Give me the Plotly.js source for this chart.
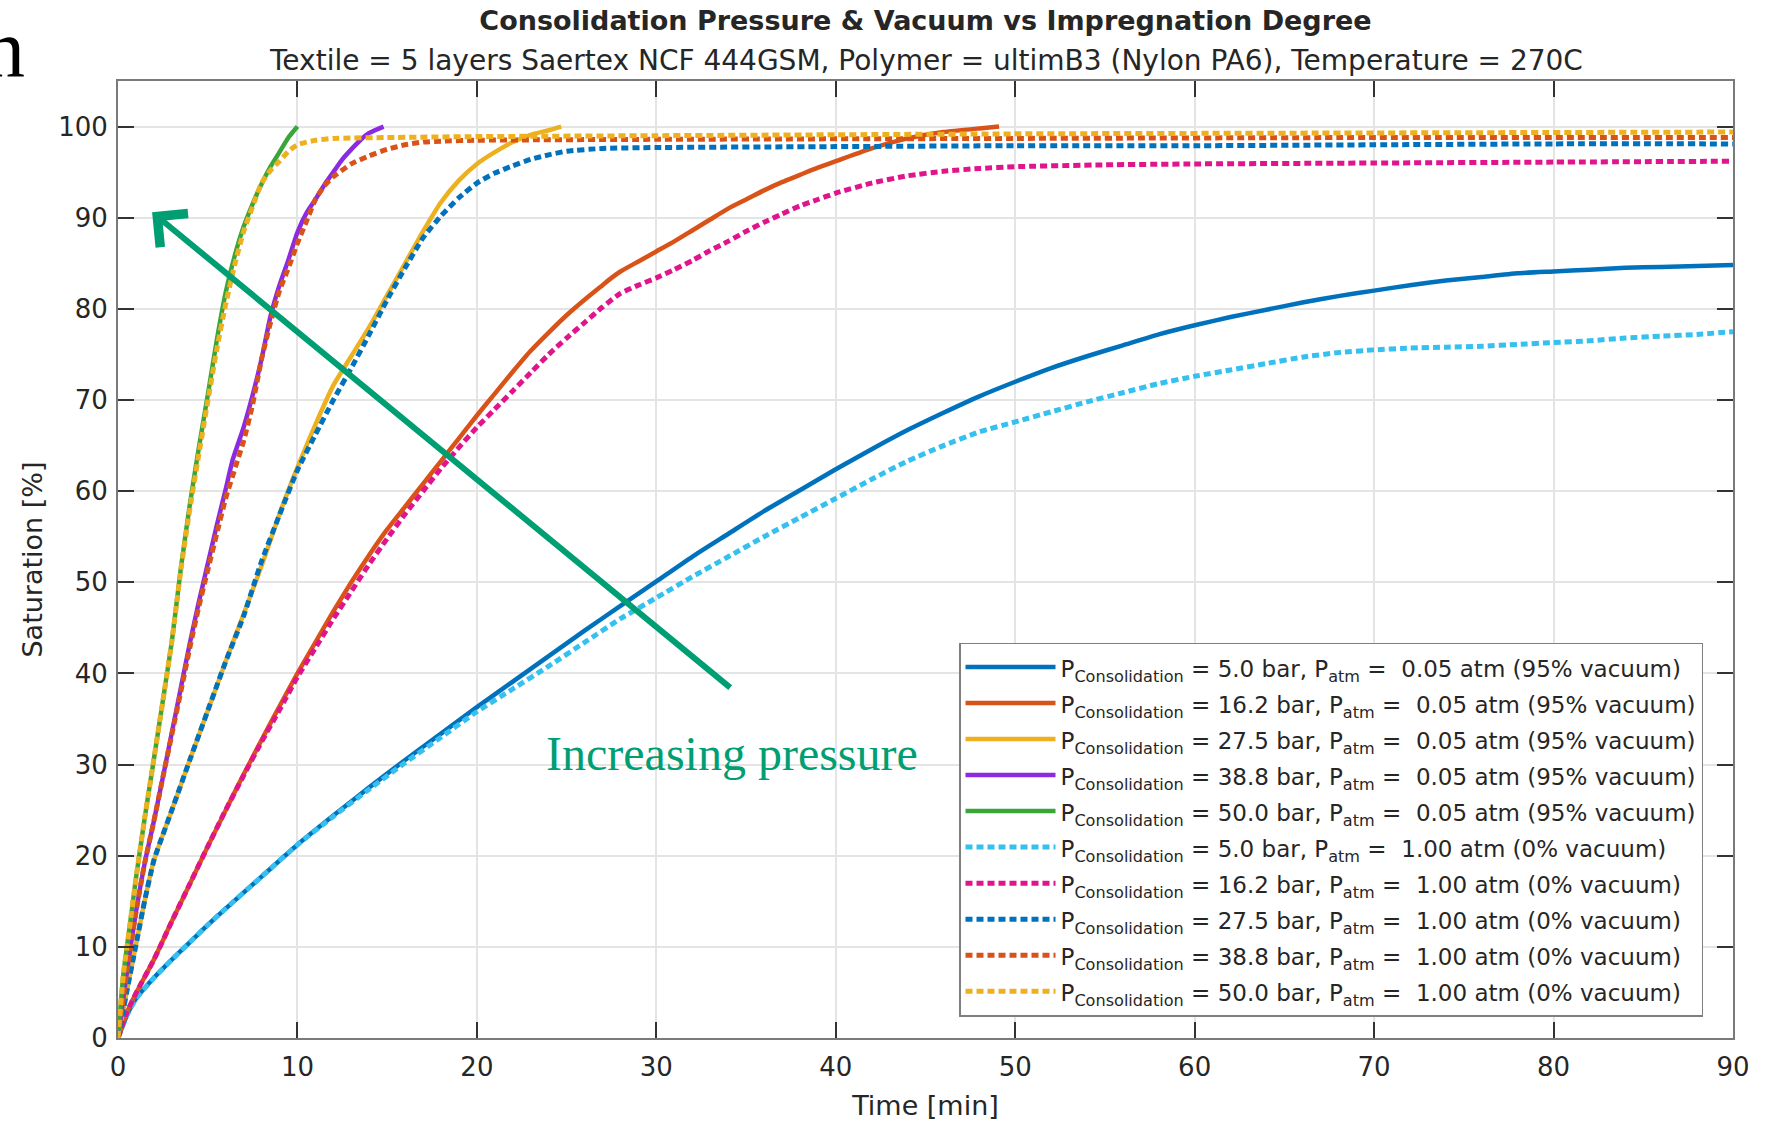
<!DOCTYPE html>
<html>
<head>
<meta charset="utf-8">
<script src="https://cdn.plot.ly/plotly-3.0.1.min.js"></script>
<style>
  html, body { margin: 0; padding: 0; background: #ffffff; }
  #chart { width: 1767px; height: 1121px; }
</style>
</head>
<body>
<div id="chart"></div>
<script>
// ---------- data ----------
const pressures = ["5.0", "16.2", "27.5", "38.8", "50.0"];
const atmVacuum = "0.05";
const atmNone = "1.00";

// vacuum (solid) series: time [min], saturation [%]
const t_v05 = [0, 0.5, 1, 2, 3, 4, 5, 6, 8, 10, 12, 14, 16, 18, 20, 22, 24, 26, 28, 30, 32, 34, 36, 38, 40, 42, 44, 46, 48, 50, 52, 54, 56, 58, 60, 62, 64, 66, 68, 70, 72, 74, 76, 78, 80, 82, 84, 86, 88, 90];
const s_v05 = [0, 2.5, 4.3, 6.6, 8.6, 10.5, 12.4, 14.2, 17.7, 21.2, 24.4, 27.5, 30.5, 33.4, 36.3, 39.1, 41.9, 44.7, 47.4, 50.1, 52.8, 55.3, 57.8, 60.1, 62.4, 64.6, 66.7, 68.6, 70.4, 72.0, 73.5, 74.8, 76.0, 77.2, 78.2, 79.1, 79.9, 80.7, 81.4, 82.0, 82.6, 83.1, 83.5, 83.9, 84.1, 84.3, 84.5, 84.6, 84.7, 84.8];

const t_v16 = [0, 0.5, 1, 2, 3, 4, 5, 6, 7, 8, 9, 10, 11, 12, 13, 14, 15, 16, 17, 18, 19, 20, 21, 22, 23, 24, 25, 26, 27, 27.5, 28, 29, 30, 31, 32, 33, 34, 35, 36, 37, 38, 39, 40, 42, 44, 46, 48, 49.1];
const s_v16 = [0, 2.8, 4.9, 8.6, 12.8, 16.9, 21.0, 25.0, 28.9, 32.7, 36.4, 40.0, 43.4, 46.8, 50.0, 53.0, 55.8, 58.3, 60.8, 63.3, 65.8, 68.3, 70.7, 73.1, 75.4, 77.4, 79.3, 81.0, 82.6, 83.4, 84.1, 85.2, 86.3, 87.4, 88.6, 89.8, 91.0, 92.0, 93.0, 93.9, 94.7, 95.5, 96.2, 97.6, 98.7, 99.4, 99.8, 100];

const t_v27 = [0, 0.5, 1, 1.5, 2, 2.5, 3, 4, 5, 6, 7, 8, 9, 10, 11, 12, 13, 14, 15, 16, 17, 18, 19, 20, 21, 22, 23, 24, 24.7];
const s_v27 = [0, 5.2, 10.2, 15.2, 19.5, 22.3, 25.0, 30.5, 35.9, 41.3, 46.5, 51.8, 57.5, 62.6, 67.3, 71.6, 74.8, 78.0, 81.5, 85.0, 88.5, 91.7, 94.1, 95.9, 97.2, 98.3, 99.1, 99.6, 100];

const t_v38 = [0, 0.5, 1, 1.5, 2, 2.5, 3, 3.5, 4, 4.5, 5, 5.5, 6, 6.4, 7, 7.5, 8, 8.5, 9, 9.5, 10, 10.5, 11, 11.5, 12, 12.5, 13, 13.5, 14, 14.8];
const s_v38 = [0, 7.3, 13.8, 19.3, 23.8, 28.6, 33.5, 38.4, 43.3, 47.8, 52.0, 56.2, 60.2, 63.5, 67.0, 70.5, 74.5, 79.2, 82.6, 85.4, 88.4, 90.5, 92.0, 93.6, 95.0, 96.4, 97.5, 98.5, 99.3, 100];

const t_v50 = [0, 0.3, 0.67, 1, 1.5, 2, 2.5, 3, 3.5, 4, 4.5, 5, 5.5, 6, 6.5, 7, 7.5, 8, 8.5, 9, 9.5, 10];
const s_v50 = [0, 7, 12.5, 17.5, 24.3, 30.6, 37.0, 43.5, 51.5, 58.5, 64.7, 70.5, 76.5, 81.8, 85.8, 89.0, 91.5, 93.7, 95.6, 97.2, 98.8, 100];

// atmospheric (dotted) series
const t_a05 = [0, 0.5, 1, 2, 3, 4, 5, 6, 8, 10, 12, 14, 16, 18, 20, 22, 24, 26, 28, 30, 32, 34, 36, 38, 40, 42, 44, 46, 48, 50, 52, 54, 56, 58, 60, 62, 64, 66, 68, 70, 72, 74, 76, 78, 80, 82, 84, 86, 88, 90];
const s_a05 = [0, 2.5, 4.3, 6.6, 8.6, 10.5, 12.4, 14.2, 17.7, 21.2, 24.3, 27.3, 30.2, 33.0, 35.8, 38.3, 40.8, 43.4, 46.0, 48.3, 50.6, 52.8, 55.0, 57.1, 59.2, 61.3, 63.3, 65.0, 66.5, 67.6, 68.7, 69.8, 70.8, 71.8, 72.6, 73.3, 74.0, 74.7, 75.2, 75.5, 75.7, 75.8, 75.9, 76.1, 76.3, 76.5, 76.8, 77.0, 77.2, 77.5];

const t_a16 = [0, 0.5, 1, 2, 3, 4, 5, 6, 7, 8, 9, 10, 11, 12, 13, 14, 15, 16, 17, 18, 19, 20, 21, 22, 23, 24, 25, 26, 27, 28, 29, 30, 31, 32, 33, 34, 35, 36, 37, 38, 39, 40, 42, 44, 46, 48, 50, 55, 60, 70, 80, 90];
const s_a16 = [0, 2.8, 4.9, 8.6, 12.8, 16.9, 21.0, 25.0, 28.8, 32.5, 36.0, 39.6, 42.8, 46.0, 49.0, 52.0, 54.8, 57.5, 60.0, 62.5, 64.8, 67.0, 69.0, 71.0, 73.0, 75.0, 76.8, 78.5, 80.2, 81.7, 82.6, 83.4, 84.3, 85.3, 86.4, 87.4, 88.5, 89.5, 90.4, 91.3, 92.0, 92.7, 93.8, 94.6, 95.1, 95.4, 95.6, 95.8, 95.9, 96.0, 96.1, 96.2];

const t_a27 = [0, 0.5, 1, 1.5, 2, 2.5, 3, 4, 5, 6, 7, 8, 9, 10, 11, 12, 13, 14, 15, 16, 17, 18, 19, 20, 21, 22, 23, 24, 25, 27, 30, 40, 50, 60, 70, 80, 90];
const s_a27 = [0, 5.2, 10.2, 15.2, 19.5, 22.3, 25.0, 30.5, 35.9, 41.3, 46.3, 52.3, 57.4, 62.3, 66.2, 70.0, 73.5, 77.2, 81.0, 84.5, 87.8, 90.2, 92.2, 93.8, 94.9, 95.7, 96.4, 96.9, 97.3, 97.6, 97.7, 97.8, 97.9, 97.9, 98.0, 98.1, 98.1];

const t_a38 = [0, 0.5, 1, 1.5, 2, 2.5, 3, 3.5, 4, 4.5, 5, 5.5, 6, 6.6, 7, 7.5, 8, 8.5, 9, 9.5, 10, 10.5, 11, 11.5, 12, 13, 14, 15, 16, 17, 18, 20, 30, 50, 70, 90];
const s_a38 = [0, 7.3, 13.8, 19.3, 23.8, 28.6, 33.3, 38.0, 42.8, 47.3, 51.3, 55.3, 59.2, 63.0, 65.5, 69.5, 74.5, 78.5, 82.0, 84.5, 87.2, 89.6, 92.0, 93.5, 94.5, 95.9, 96.8, 97.5, 98.0, 98.3, 98.4, 98.5, 98.6, 98.7, 98.8, 98.8];

const t_a50 = [0, 0.3, 0.67, 1, 1.5, 2, 2.5, 3, 3.5, 4, 4.5, 5, 5.5, 6, 6.5, 7, 7.5, 8, 8.5, 9, 9.5, 10, 11, 12, 15, 20, 30, 40, 50, 70, 90];
const s_a50 = [0, 7, 12.5, 17.5, 24.3, 30.6, 37.0, 43.5, 51.3, 58.0, 64.0, 69.8, 75.5, 80.5, 84.8, 88.5, 91.2, 93.8, 95.2, 96.2, 97.3, 98.0, 98.5, 98.7, 98.8, 98.9, 99.0, 99.1, 99.2, 99.3, 99.4];

const xTicks = [0, 10, 20, 30, 40, 50, 60, 70, 80, 90];
const yTicks = [0, 10, 20, 30, 40, 50, 60, 70, 80, 90, 100];

const titleText = "Consolidation Pressure & Vacuum vs Impregnation Degree";
const subtitleText = "Textile = 5 layers Saertex NCF 444GSM, Polymer = ultimB3 (Nylon PA6), Temperature = 270C";

// ---------- styling ----------
const solidColors = ["#0072BD", "#D95319", "#EDB120", "#8A2BE2", "#3AA63A"];
const dotColors   = ["#35C0F0", "#E0148C", "#0072BD", "#D95319", "#EDB120"];
const FONT = "DejaVu Sans, Liberation Sans, Arial, sans-serif";
const SERIF = "Liberation Serif, Times New Roman, serif";
const NB = "\u00a0";

function label(p, atm, vac) {
  return "<span style='font-size:23px'>P<sub>Consolidation</sub> = " + p + " bar, P<sub>atm</sub> =" + NB + " " + atm + " atm (" + vac + " vacuum)</span>";
}

const vacT = [t_v05, t_v16, t_v27, t_v38, t_v50];
const vacS = [s_v05, s_v16, s_v27, s_v38, s_v50];
const atmT = [t_a05, t_a16, t_a27, t_a38, t_a50];
const atmS = [s_a05, s_a16, s_a27, s_a38, s_a50];

const traces = [];
for (let i = 0; i < 5; i++) {
  traces.push({
    x: vacT[i], y: vacS[i], type: "scatter", mode: "lines",
    name: label(pressures[i], atmVacuum, "95%"),
    line: { color: solidColors[i], width: 4.5, shape: "spline", smoothing: 0.5 }
  });
}
for (let i = 0; i < 5; i++) {
  traces.push({
    x: atmT[i], y: atmS[i], type: "scatter", mode: "lines",
    name: label(pressures[i], atmNone, "0%"),
    line: { color: dotColors[i], width: 5, dash: "7px,4px", shape: "spline", smoothing: 0.5 }
  });
}

const axisCommon = {
  showline: true, linecolor: "#7a7a7a", linewidth: 2, mirror: "ticks",
  ticks: "inside", ticklen: 16, tickwidth: 1.5, tickcolor: "#333333",
  showgrid: true, gridcolor: "#e4e4e4", gridwidth: 1.5,
  zeroline: false,
  tickfont: { family: FONT, size: 26, color: "#262626" }
};

const layout = {
  width: 1767, height: 1121,
  paper_bgcolor: "#ffffff", plot_bgcolor: "#ffffff",
  margin: { l: 118, r: 34, t: 81, b: 83 },
  title: {
    text: "<b>" + titleText + "</b>",
    x: 0.5, xref: "paper", xanchor: "center",
    y: 1 - 21 / 1121, yref: "container", yanchor: "middle",
    font: { family: FONT, size: 27, color: "#262626" }
  },
  xaxis: Object.assign({}, axisCommon, {
    range: [0, 90], tickvals: xTicks, ticktext: xTicks.map(String),
    ticklabelstandoff: 5,
    title: { text: "Time [min]", font: { family: FONT, size: 27, color: "#262626" }, standoff: 20 }
  }),
  yaxis: Object.assign({}, axisCommon, {
    range: [0, 105], tickvals: yTicks, ticktext: yTicks.map(String),
    ticklabelstandoff: 3,
    title: { text: "Saturation [%]", font: { family: FONT, size: 27, color: "#262626" }, standoff: 8 }
  }),
  showlegend: true,
  legend: {
    x: (959 - 118) / 1615, y: (1038 - 642.5) / 957, xanchor: "left", yanchor: "top",
    bgcolor: "#ffffff", bordercolor: "#7f7f7f", borderwidth: 1.5,
    font: { family: FONT, size: 25.4, color: "#262626" },
    itemwidth: 90, tracegroupgap: 0
  },
  annotations: [
    {
      x: 0.5, y: (1038 - 61) / 957, xref: "paper", yref: "paper",
      text: subtitleText, showarrow: false, xanchor: "center", yanchor: "middle",
      font: { family: FONT, size: 28, color: "#262626" }
    },
    {
      x: 1.9, y: 90.6, xref: "x", yref: "y",
      ax: 34.2, ay: 38.3, axref: "x", ayref: "y",
      text: "", showarrow: true, arrowhead: 4, arrowsize: 1.4, arrowwidth: 6,
      arrowcolor: "#009E73", standoff: 0
    },
    {
      x: 34.2, y: 31.2, xref: "x", yref: "y",
      text: "Increasing pressure", showarrow: false,
      font: { family: SERIF, size: 48, color: "#009E73" },
      xanchor: "center", yanchor: "middle"
    },
    {
      x: (27 - 118) / 1615, y: (1038 - 96) / 957, xref: "paper", yref: "paper",
      text: "n", showarrow: false, xanchor: "right", yanchor: "bottom",
      font: { family: SERIF, size: 82, color: "#000000" }
    }
  ]
};

Plotly.newPlot("chart", traces, layout, { displayModeBar: false, responsive: false });
</script>
</body>
</html>
